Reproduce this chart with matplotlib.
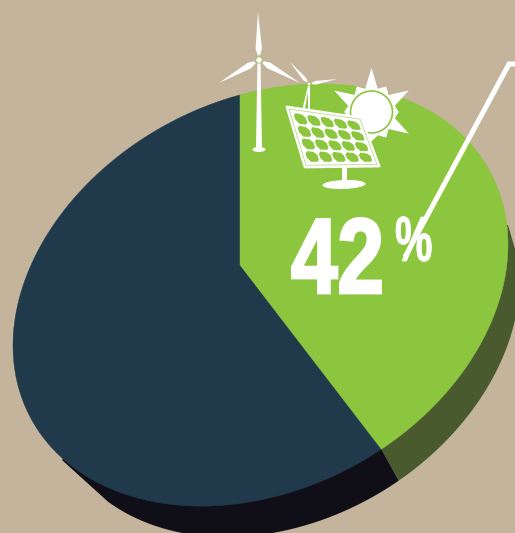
import numpy as np
import matplotlib
matplotlib.use("Agg")
from matplotlib import pyplot as plt
from matplotlib.patches import Polygon, Circle, Ellipse
from matplotlib.transforms import Affine2D
import matplotlib.patheffects as pe

# pie values, percent
shares = [42, 58]
share_labels = ["42", "%"]
start_angle = 90.0

BG = "#C4B49C"
GREEN = "#8CC63F"
NAVY = "#213A4B"
DARK_GREEN = "#4A5A2F"
BLACK = "#100F18"
WHITE = "#FFFFFF"

# tilted ellipse of the pie top, in pixel coordinates
cx, cy = 260.5, 295.0
apex = (240.0, 265.0)
A = np.array([[247.5, 0.0], [50.5, 205.0]])


def to_px(uv):
    xy = uv @ A.T
    return np.column_stack([cx + xy[:, 0], cy - xy[:, 1]])


def rim(deg):
    # point on the rim seen from the apex at the given angle of the flat pie
    o = np.linalg.solve(A, np.array([apex[0] - cx, cy - apex[1]]))
    t = np.radians(np.atleast_1d(deg))
    d = np.column_stack([np.cos(t), np.sin(t)])
    b = d @ o
    s = -b + np.sqrt(b * b - (o @ o - 1.0))
    return to_px(o + d * s[:, None])


def under(p):
    # the side of the pie is a slightly narrower copy, pushed down and right
    x = 283.0 + 0.957 * (p[:, 0] - cx)
    y = 328.0 + 0.99 * (p[:, 1] - cy)
    return np.column_stack([x, y])


class Squeeze(pe.AbstractPathEffect):
    # narrows text horizontally about x0, there is no condensed heavy face installed
    def __init__(self, factor, x0, grow=0.0):
        super().__init__()
        self.factor = factor
        self.x0 = x0
        self.grow = grow

    def draw_path(self, renderer, gc, tpath, affine, rgbFace):
        squeezed = affine + Affine2D().translate(-self.x0, 0).scale(self.factor, 1).translate(self.x0, 0)
        gc0 = renderer.new_gc()
        gc0.copy_properties(gc)
        if self.grow:
            gc0.set_linewidth(self.grow)
            gc0.set_foreground(rgbFace)
            gc0.set_joinstyle("miter")
        renderer.draw_path(gc0, tpath, squeezed, rgbFace)
        gc0.restore()


def blade(ax, hub, tip, width):
    hub = np.array(hub, float)
    tip = np.array(tip, float)
    d = tip - hub
    n = np.array([-d[1], d[0]]) / np.hypot(*d)
    root = hub + d * 0.1
    mid = hub + d * 0.24
    pts = [root - n * width * 0.4, mid - n * width, tip, mid + n * width, root + n * width * 0.4]
    ax.add_patch(Polygon(pts, closed=True, fc=WHITE, ec="none", zorder=6))


def turbine(ax, hub, tips, base, width, blade_w):
    hx, hy = hub
    bx, by = base
    ax.add_patch(Polygon([(hx - width * 0.5, hy), (hx + width * 0.5, hy),
                          (bx + width, by), (bx - width, by)],
                         closed=True, fc=WHITE, ec="none", zorder=6))
    for tip in tips:
        blade(ax, hub, tip, blade_w)
    ax.add_patch(Circle(hub, blade_w * 1.0, fc=WHITE, ec=GREEN, lw=0.5, zorder=7))


def sun(ax, center, r):
    # spikes alternate long and short around the disc
    lengths = [2.1, 1.4, 2.05, 1.3, 2.05, 1.4, 1.4, 1.3, 1.3, 1.3, 2.05, 1.4]
    pts = []
    n = len(lengths)
    for i, ln in enumerate(lengths):
        a = np.radians(90 - i * 360.0 / n)
        b = np.radians(90 - (i + 0.5) * 360.0 / n)
        pts.append((center[0] + r * ln * np.cos(a), center[1] - r * ln * np.sin(a)))
        pts.append((center[0] + r * 1.15 * np.cos(b), center[1] - r * 1.15 * np.sin(b)))
    ax.add_patch(Polygon(pts, closed=True, fc=WHITE, ec="none", zorder=5))
    ax.add_patch(Circle(center, r, fc=WHITE, ec=GREEN, lw=1.2, zorder=5))


def solar_panel(ax):
    tl, tr, br, bl = [np.array(p, float) for p in [(287, 107), (361, 118), (379, 166), (305, 167)]]
    ax.add_patch(Polygon([tl, tr, br, bl], closed=True, fc=WHITE, ec=WHITE, lw=2.0, zorder=8, joinstyle="round"))

    def at(u, v):
        return (tl * (1 - u) + tr * u) * (1 - v) + (bl * (1 - u) + br * u) * v

    ax.add_patch(Polygon([at(.02, .03), at(.98, .03), at(.98, .97), at(.02, .97)], closed=True,
                         fc="none", ec=GREEN, lw=0.35, zorder=9))
    rows, cols = 4, 5
    for r in range(rows):
        for c in range(cols):
            u0, u1 = (c + .07) / cols * .9 + .05, (c + .93) / cols * .9 + .05
            v0, v1 = (r + .08) / rows * .86 + .07, (r + .92) / rows * .86 + .07
            cell = [at(u0 + .03, v0), at(u1 - .04, v0 + .01), at(u1, v0 + .06),
                    at(u1, v1 - .03), at(u1 - .03, v1), at(u0 + .04, v1),
                    at(u0, v1 - .07), at(u0, v0 + .04)]
            ax.add_patch(Polygon(cell, closed=True, fc=GREEN, ec="none", zorder=10, joinstyle="round"))
    ax.add_patch(Polygon([(342, 166), (346.5, 166), (346.5, 182), (342, 182)], closed=True, fc=WHITE, ec="none", zorder=8))
    ax.add_patch(Ellipse((344, 184.5), 43, 9, angle=-2, fc=WHITE, ec="none", zorder=8))


fig = plt.figure(figsize=(5.15, 5.33), dpi=100, facecolor=BG)
ax = fig.add_axes([0, 0, 1, 1])
ax.set_xlim(0, 515)
ax.set_ylim(533, 0)
ax.axis("off")

# slice angles come straight from the shares
split_angle = start_angle - shares[0] / sum(shares) * 360.0
corner = rim(split_angle)

# side walls, drawn first so the top covers them
wall_green = under(rim(np.linspace(split_angle, -5, 80)))
ax.add_patch(Polygon(np.vstack([corner, wall_green, [(508, 225), apex]]),
                     closed=True, fc=DARK_GREEN, ec="none", zorder=1))
wall_dark = under(rim(np.linspace(split_angle, -128, 120)))
ax.add_patch(Polygon(np.vstack([corner, wall_dark, [(62, 460), apex]]),
                     closed=True, fc=BLACK, ec="none", zorder=1))

# top of the pie
arc_green = rim(np.linspace(start_angle, split_angle, 200))
arc_navy = rim(np.linspace(split_angle, start_angle - 360.0, 300))
ax.add_patch(Polygon(np.vstack([[apex], arc_navy]), closed=True, fc=NAVY, ec=NAVY, lw=0.3, zorder=2))
ax.add_patch(Polygon(np.vstack([[apex], arc_green]), closed=True, fc=GREEN, ec=GREEN, lw=0.3, zorder=3))

# energy icons
turbine(ax, (259, 60), [(258, 12), (219, 83), (300, 83)], (259, 147), 3.0, 3.2)
ax.add_patch(Ellipse((259, 149.5), 13, 5, fc=WHITE, ec="none", zorder=6))
turbine(ax, (309, 84), [(290, 62), (337, 79)], (303, 112), 1.2, 1.8)
ax.add_patch(Polygon([(308, 84), (310, 84), (310, 110), (308, 110)], closed=True, fc=WHITE, ec="none", zorder=6))
sun(ax, (371.5, 112), 21)
solar_panel(ax)

# leader line
ax.plot([405, 509, 515], [257, 64, 64], color=WHITE, lw=3.6, solid_joinstyle="miter", solid_capstyle="butt", zorder=11)

# value label
ax.text(384, 293, share_labels[0], color=WHITE, fontsize=77, fontweight="bold",
        family="Liberation Sans", ha="right", va="baseline",
        path_effects=[Squeeze(0.78, 384, grow=2.0)], zorder=12)
ax.text(395, 261, share_labels[1], color=WHITE, fontsize=46, fontweight="bold",
        family="Liberation Sans", ha="left", va="baseline",
        path_effects=[Squeeze(0.66, 395, grow=0.6)], zorder=12)

fig.savefig("out.png", dpi=100, facecolor=BG)
